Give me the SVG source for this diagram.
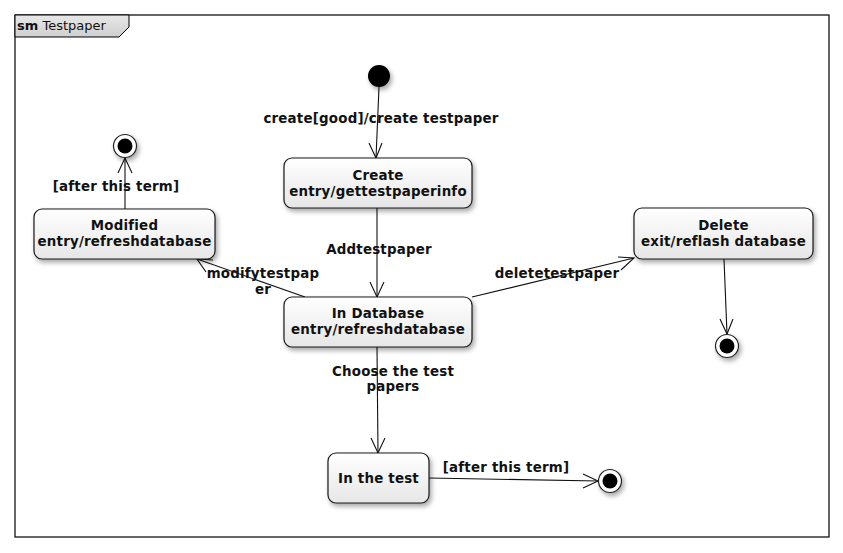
<svg xmlns="http://www.w3.org/2000/svg" width="843" height="553" viewBox="0 0 843 553">
  <style>
    .frame { fill: none; stroke: #000; stroke-width: 1.2; }
    .tab { fill: url(#tabFill); stroke: #000; stroke-width: 1; }
    .state { fill: url(#stateFill); stroke: #1a1a1a; stroke-width: 1.2; filter: url(#shadow); }
    .t { font-family: "DejaVu Sans", Verdana, sans-serif; font-weight: bold; font-size: 13.4px; letter-spacing: 0.2px; fill: #111; text-anchor: middle; }
    .edge { fill: none; stroke: #111; stroke-width: 1.1; }
    .head { fill: none; stroke: #111; stroke-width: 1.1; }
    .title { font-family: "DejaVu Sans", Verdana, sans-serif; font-size: 13px; fill: #111; }
  </style>
  <defs>
    <linearGradient id="stateFill" x1="0" y1="0" x2="0" y2="1">
      <stop offset="0" stop-color="#ffffff"/>
      <stop offset="1" stop-color="#e6e6e6"/>
    </linearGradient>
    <linearGradient id="tabFill" x1="0" y1="0" x2="0" y2="1">
      <stop offset="0" stop-color="#e8e8e8"/>
      <stop offset="1" stop-color="#cfcfcf"/>
    </linearGradient>
    <filter id="shadow" x="-20%" y="-30%" width="150%" height="170%">
      <feGaussianBlur in="SourceAlpha" stdDeviation="2.5"/>
      <feOffset dx="2" dy="3" result="b"/>
      <feComponentTransfer><feFuncA type="linear" slope="0.35"/></feComponentTransfer>
      <feMerge><feMergeNode/><feMergeNode in="SourceGraphic"/></feMerge>
    </filter>
  </defs>

  <!-- state machine frame -->
  <g id="frame">
    <rect class="frame" x="15" y="15" width="814" height="522"/>
    <path class="tab" d="M15,15 H129 V27 L119,37 H15 Z"/>
    <text class="title" x="17" y="30"><tspan font-weight="bold">sm</tspan> Testpaper</text>
  </g>

  <!-- transitions -->
  <g id="connectors">
    <!-- initial -> Create -->
    <path class="edge" d="M379,87 L376,158"/>
    <path class="head" d="M369,143 L376,158 L382,143"/>
    <text class="t" x="381" y="123">create[good]/create testpaper</text>

    <!-- Create -> In Database -->
    <path class="edge" d="M377,208 L377,297"/>
    <path class="head" d="M370,282 L377,297 L384,282"/>
    <text class="t" x="379" y="254">Addtestpaper</text>

    <!-- In Database -> Modified -->
    <path class="edge" d="M305,297 L197,259"/>
    <path class="head" d="M206,272 L197,259 L213,260"/>
    <text class="t" x="263" y="278">modifytestpap</text>
    <text class="t" x="263" y="294">er</text>

    <!-- In Database -> Delete -->
    <path class="edge" d="M472,297 L634,258"/>
    <path class="head" d="M618,257 L634,258 L621,270"/>
    <text class="t" x="557" y="278">deletetestpaper</text>

    <!-- Delete -> final -->
    <path class="edge" d="M724,259 L727,334"/>
    <path class="head" d="M720,319 L727,334 L733,319"/>

    <!-- Modified -> final -->
    <path class="edge" d="M125,209 L125,158"/>
    <path class="head" d="M118,173 L125,158 L132,173"/>
    <text class="t" x="116" y="191">[after this term]</text>

    <!-- In Database -> In the test -->
    <path class="edge" d="M377,347 L378,453"/>
    <path class="head" d="M371,438 L378,453 L385,438"/>
    <text class="t" x="393" y="376">Choose the test</text>
    <text class="t" x="393" y="391">papers</text>

    <!-- In the test -> final -->
    <path class="edge" d="M429,478 L598,481"/>
    <path class="head" d="M583,474 L598,481 L583,488"/>
    <text class="t" x="506" y="472">[after this term]</text>
  </g>

  <!-- pseudo states -->
  <g id="initial">
    <circle cx="379" cy="76" r="11" fill="#000" filter="url(#shadow)"/>
  </g>
  <g id="final-modified">
    <circle cx="125" cy="146" r="11.5" fill="#fff" stroke="#222" stroke-width="1.2" filter="url(#shadow)"/>
    <circle cx="125" cy="146" r="7.5" fill="#000"/>
  </g>
  <g id="final-delete">
    <circle cx="727" cy="346" r="11.5" fill="#fff" stroke="#222" stroke-width="1.2" filter="url(#shadow)"/>
    <circle cx="727" cy="346" r="7.5" fill="#000"/>
  </g>
  <g id="final-test">
    <circle cx="610" cy="481" r="11.5" fill="#fff" stroke="#222" stroke-width="1.2" filter="url(#shadow)"/>
    <circle cx="610" cy="481" r="7.5" fill="#000"/>
  </g>

  <!-- states -->
  <g id="create">
    <rect class="state" x="284" y="158" width="188" height="50" rx="8"/>
    <text class="t" x="378" y="180">Create</text>
    <text class="t" x="378" y="196">entry/gettestpaperinfo</text>
  </g>
  <g id="modified">
    <rect class="state" x="34" y="209" width="181" height="50" rx="8"/>
    <text class="t" x="124.5" y="230">Modified</text>
    <text class="t" x="124.5" y="246">entry/refreshdatabase</text>
  </g>
  <g id="delete">
    <rect class="state" x="634" y="208" width="179" height="51" rx="8"/>
    <text class="t" x="723.5" y="230">Delete</text>
    <text class="t" x="723.5" y="246">exit/reflash database</text>
  </g>
  <g id="in-database">
    <rect class="state" x="284" y="297" width="188" height="50" rx="8"/>
    <text class="t" x="378" y="318">In Database</text>
    <text class="t" x="378" y="334">entry/refreshdatabase</text>
  </g>
  <g id="in-the-test">
    <rect class="state" x="328" y="453" width="101" height="50" rx="8"/>
    <text class="t" x="378.5" y="483">In the test</text>
  </g>
</svg>
